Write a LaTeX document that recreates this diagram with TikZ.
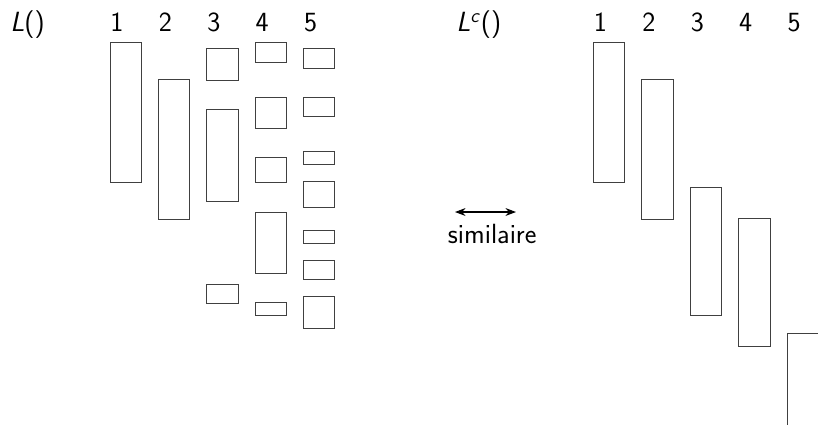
\documentclass[tikz,border=0pt]{standalone}
\usepackage{tikz}
\usetikzlibrary{arrows.meta}
\tikzset{
  boite/.style={draw=black!75, line width=0.5pt},
  etiq/.style={anchor=base, font=\fontsize{15.8}{19}\selectfont\sffamily, inner sep=0pt}
}

\begin{document}
\begin{tikzpicture}[x=0.02cm, y=-0.02cm]
  \clip (0,0) rectangle (818,424);
  % liste L()
  \node[etiq, anchor=base west] (titreL) at (10,31.7) {\textit{L}()};
  \foreach \c in {1,...,5} {
    \node[etiq] (g\c) at ({110+48.4*(\c-1)+7},31.7) {\c};
  }
  \foreach \c/\ya/\yb in {1/42.7/182.7, 2/79/219,
      3/48.7/80, 3/109.3/201, 3/284.3/303.7,
      4/42.3/62, 4/97/128.3, 4/157.3/182.7, 4/212/273.7, 4/302.3/315.7,
      5/48.7/68, 5/97/116.3, 5/151.7/164.7, 5/181.7/207, 5/230.3/243.3, 5/260.3/279.3, 5/296.3/328} {
    \draw[boite] ({110+48.4*(\c-1)},\ya) rectangle ++(31.3,\yb-\ya);
  }
  % liste L^c()
  \node[etiq, anchor=base west] (titreLc) at (456,31.7) {\textit{L}\textsuperscript{\textit{c}}()};
  \foreach \c in {1,...,5} {
    \node[etiq] (d\c) at ({593.5+48.4*(\c-1)+7},31.7) {\c};
  }
  \foreach \c/\ya/\yb in {1/42.7/182.7, 2/79/219, 3/187.7/315.7, 4/218/346.3, 5/333/460} {
    \draw[boite] ({593.5+48.4*(\c-1)},\ya) rectangle ++(31.3,\yb-\ya);
  }
  % similaire
  \coordinate (simA) at (455,212);
  \coordinate (simB) at (516,212);
  \draw[{Stealth[length=6pt]}-{Stealth[length=6pt]}, line width=0.6pt] (simA) -- (simB);
  \node[etiq] (sim) at (492.2,243) {similaire};
\end{tikzpicture}
\end{document}
